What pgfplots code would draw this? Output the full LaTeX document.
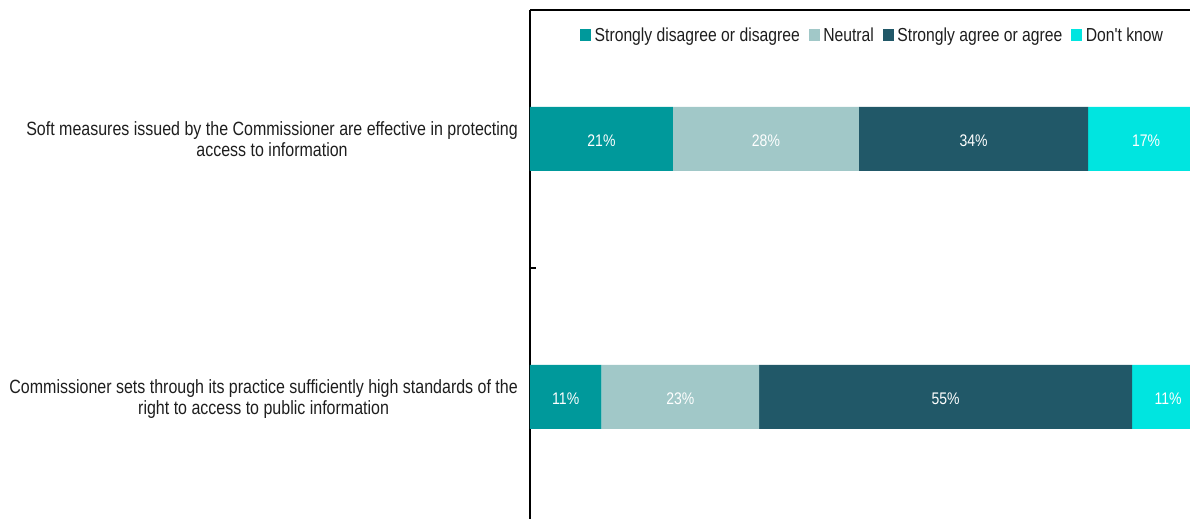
\documentclass[border=0pt]{standalone}
\usepackage{graphicx}
\usepackage{pgfplots}
\pgfplotsset{compat=1.18}
\usepackage{fontspec}
\setmainfont{Liberation Sans}
\definecolor{cA}{RGB}{0,153,155}
\definecolor{cB}{RGB}{161,200,200}
\definecolor{cC}{RGB}{33,88,104}
\definecolor{cD}{RGB}{0,229,224}
\definecolor{txt}{RGB}{30,30,30}
\newcommand{\vs}[1]{\scalebox{1}[1.2]{#1}}
\newcommand{\two}[2]{\vs{\begin{tabular}{@{}c@{}}#1\\#2\end{tabular}}}
\begin{document}
\begin{tikzpicture}
\pgfplotsset{
  common/.style={
    at={(0,0)}, anchor=south west,
    scale only axis, width=660bp, height=509bp,
    xmin=0, xmax=97.9,
    y dir=reverse, ymin=0.5, ymax=2.473,
  }
}
\begin{axis}[
  common,
  xbar stacked, bar width=64bp,
  axis x line*=top, axis y line*=left,
  axis line style={line width=1.3bp, black},
  xtick=\empty,
  ytick={1,2},
  yticklabels={{\two{Soft measures issued by the Commissioner are effective in protecting}{access to information}},{\two{Commissioner sets through its practice sufficiently high standards of the}{right to access to public information}}},
  yticklabel style={font=\fontsize{16bp}{17.5bp}\selectfont, text=txt, inner sep=0pt, xshift=-12bp, yshift=-3bp},
  major tick length=0pt,
  extra y ticks={1.5}, extra y tick labels={},
  extra y tick style={major tick length=6bp, tick align=inside, tick style={line width=1.3bp,black}},
  legend columns=4,
  legend style={at={(0.0758,0.951)}, anchor=west, draw=none, fill=none, inner sep=0pt, font=\fontsize{15.7bp}{18bp}\selectfont, text=txt,
    nodes={inner xsep=0pt, inner ysep=0pt},
    /tikz/every even column/.append style={column sep=9bp},
    /tikz/every odd column/.append style={column sep=3.5bp}},
  legend image code/.code={\fill[#1] (0bp,-6bp) rectangle (11bp,6bp);},
]
\addplot[fill=cA, draw=none] coordinates {(21.2,1) (10.6,2)};
\addlegendentry{\vs{Strongly disagree or disagree}}
\addplot[fill=cB, draw=none] coordinates {(27.6,1) (23.4,2)};
\addlegendentry{\vs{Neutral}}
\addplot[fill=cC, draw=none] coordinates {(34.0,1) (55.3,2)};
\addlegendentry{\vs{Strongly agree or agree}}
\addplot[fill=cD, draw=none] coordinates {(17.2,1) (10.7,2)};
\addlegendentry{\vs{Don\textquotesingle t know}}
\end{axis}
\begin{axis}[
  common, hide axis, clip=false,
  nodes near coords, point meta=explicit symbolic,
  every node near coord/.append style={anchor=center, inner sep=0pt, yshift=-1.5bp, font=\fontsize{14bp}{16bp}\selectfont, text=white},
]
\addplot[draw=none, mark=none] coordinates {
  (10.6,1) [\vs{21\%}]
  (35.0,1) [\vs{28\%}]
  (65.8,1) [\vs{34\%}]
  (91.4,1) [\vs{17\%}]
  (5.3,2) [\vs{11\%}]
  (22.3,2) [\vs{23\%}]
  (61.65,2) [\vs{55\%}]
  (94.65,2) [\vs{11\%}]
};
\end{axis}
\pgfresetboundingbox
\path[use as bounding box] (-530bp,0) rectangle (660bp,519bp);
\end{tikzpicture}
\end{document}
